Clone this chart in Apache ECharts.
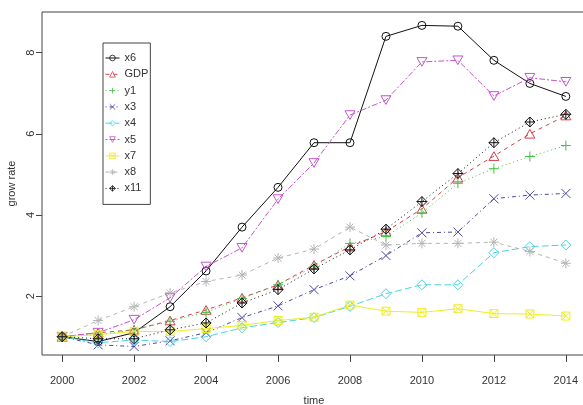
<!DOCTYPE html>
<html>
<head>
<meta charset="utf-8">
<script src="https://cdn.jsdelivr.net/npm/echarts@6/dist/echarts.min.js"></script>
<style>
  html, body { margin: 0; padding: 0; background: #fff; }
  #chart { width: 583px; height: 405px; }
</style>
</head>
<body>
<div id="chart"></div>
<script>
// Growth indices, 2000 = 1
const years = [2000, 2001, 2002, 2003, 2004, 2005, 2006, 2007, 2008, 2009, 2010, 2011, 2012, 2013, 2014];
const xTicks = [2000, 2002, 2004, 2006, 2008, 2010, 2012, 2014];
const yTicks = [2, 4, 6, 8];

const x6  = [1.00, 0.88, 1.10, 1.74, 2.62, 3.70, 4.68, 5.78, 5.78, 8.40, 8.67, 8.65, 7.81, 7.24, 6.92];
const GDP = [1.00, 1.10, 1.17, 1.40, 1.66, 1.96, 2.28, 2.77, 3.22, 3.59, 4.15, 4.92, 5.45, 6.00, 6.45];
const y1  = [1.00, 1.05, 1.17, 1.38, 1.60, 1.94, 2.28, 2.72, 3.30, 3.47, 4.05, 4.78, 5.14, 5.44, 5.71];
const x3  = [1.00, 0.80, 0.76, 0.90, 1.10, 1.47, 1.76, 2.16, 2.50, 3.00, 3.56, 3.58, 4.40, 4.49, 4.53];
const x4  = [1.00, 0.85, 0.92, 0.88, 1.00, 1.22, 1.35, 1.47, 1.75, 2.06, 2.28, 2.28, 3.07, 3.22, 3.26];
const x5  = [1.00, 1.10, 1.42, 1.96, 2.73, 3.19, 4.39, 5.28, 6.46, 6.83, 7.77, 7.81, 6.93, 7.38, 7.28];
const x7  = [1.00, 1.05, 1.13, 1.13, 1.20, 1.28, 1.40, 1.48, 1.78, 1.63, 1.60, 1.69, 1.57, 1.56, 1.51];
const x8  = [1.00, 1.40, 1.74, 2.08, 2.36, 2.52, 2.94, 3.16, 3.70, 3.26, 3.30, 3.30, 3.33, 3.10, 2.81];
const x11 = [1.00, 0.95, 0.95, 1.17, 1.34, 1.83, 2.16, 2.67, 3.14, 3.65, 4.33, 5.02, 5.78, 6.29, 6.48];

// Marker outlines
const SYM = {
  circle:   'path://M-1,0A1,1,0,1,1,1,0A1,1,0,1,1,-1,0Z',
  triUp:    'path://M0,-1L0.866,0.5L-0.866,0.5Z',
  plus:     'path://M0,-1L0,1M-1,0L1,0',
  cross:    'path://M-1,-1L1,1M-1,1L1,-1',
  diamond:  'path://M0,-1L1,0L0,1L-1,0Z',
  triDown:  'path://M0,1L0.866,-0.5L-0.866,-0.5Z',
  boxCross: 'path://M-1,-1L1,-1L1,1L-1,1ZM-1,-1L1,1M-1,1L1,-1',
  star:     'path://M0,-1L0,1M-1,0L1,0M-0.707,-0.707L0.707,0.707M-0.707,0.707L0.707,-0.707',
  diaPlus:  'path://M0,-1L1,0L0,1L-1,0ZM0,-1L0,1M-1,0L1,0'
};

const seriesDefs = [
  { name: 'x6',  data: x6,  color: '#111111', dash: 'solid',          sym: SYM.circle,   size: 8 },
  { name: 'GDP', data: GDP, color: '#d0404a', dash: [4, 4],           sym: SYM.triUp,    size: 10 },
  { name: 'y1',  data: y1,  color: '#44c044', dash: [1, 3],           sym: SYM.plus,     size: 10 },
  { name: 'x3',  data: x3,  color: '#4a4aa0', dash: [1, 3, 4, 3],     sym: SYM.cross,    size: 9 },
  { name: 'x4',  data: x4,  color: '#4fd2e0', dash: [7, 3],           sym: SYM.diamond,  size: 10 },
  { name: 'x5',  data: x5,  color: '#c455cc', dash: [2, 2, 6, 2],     sym: SYM.triDown,  size: 10 },
  { name: 'x7',  data: x7,  color: '#eeee22', dash: 'solid',          sym: SYM.boxCross, size: 8 },
  { name: 'x8',  data: x8,  color: '#b4b4b4', dash: [4, 4],           sym: SYM.star,     size: 10 },
  { name: 'x11', data: x11, color: '#111111', dash: [1, 3],           sym: SYM.diaPlus,  size: 10 }
];

const font = "'Liberation Sans Narrow', 'Liberation Sans', Arial, sans-serif";

const series = seriesDefs.map(d => ({
  name: d.name,
  type: 'line',
  data: years.map((y, i) => [y, d.data[i]]),
  symbol: d.sym,
  symbolSize: d.size,
  symbolKeepAspect: true,
  showAllSymbol: true,
  animation: false,
  lineStyle: { color: d.color, width: 1, type: d.dash },
  itemStyle: { color: 'rgba(0,0,0,0)', borderColor: d.color, borderWidth: 1 },
  emphasis: { disabled: true }
}));

const chart = echarts.init(document.getElementById('chart'), null, { renderer: 'canvas' });
chart.setOption({
  backgroundColor: '#ffffff',
  animation: false,
  grid: {
    left: 42, right: -3, top: 12, bottom: 50,
    outerBoundsMode: 'none',
    containLabel: false,
    show: true, borderColor: '#444', borderWidth: 1, backgroundColor: 'transparent'
  },
  legend: {
    orient: 'vertical',
    left: 103, top: 43,
    data: seriesDefs.map(d => d.name),
    itemWidth: 14, itemHeight: 7, itemGap: 4.3,
    padding: [9, 2, 10, 2],
    borderColor: '#444', borderWidth: 1,
    backgroundColor: '#fff',
    selectedMode: false,
    itemStyle: { borderWidth: 0.8 },
    lineStyle: { width: 1 },
    textStyle: { fontFamily: font, fontSize: 11, lineHeight: 12, color: '#333', padding: [0, 0, 0, 0] }
  },
  xAxis: {
    type: 'value',
    min: 1999.44, max: 2014.56,
    name: 'time', nameLocation: 'middle', nameGap: 40,
    nameTextStyle: { fontFamily: font, fontSize: 11, color: '#333' },
    axisLine: { show: false },
    splitLine: { show: false },
    axisTick: { show: true, inside: false, length: 7, customValues: xTicks, lineStyle: { color: '#444' } },
    axisLabel: { customValues: xTicks, margin: 20, fontFamily: font, fontSize: 11, color: '#333',
                 formatter: v => String(v) }
  },
  yAxis: {
    type: 'value',
    min: 0.55, max: 9.0,
    name: 'grow rate', nameLocation: 'middle', nameRotate: 90, nameGap: 12,
    nameTextStyle: { fontFamily: font, fontSize: 11, color: '#333' },
    axisLine: { show: false },
    splitLine: { show: false },
    axisTick: { show: true, inside: false, length: 6, customValues: yTicks, lineStyle: { color: '#444' } },
    axisLabel: { customValues: yTicks, rotate: 90, margin: 6, fontFamily: font, fontSize: 11, color: '#333' }
  },
  series: series
});
</script>
</body>
</html>
